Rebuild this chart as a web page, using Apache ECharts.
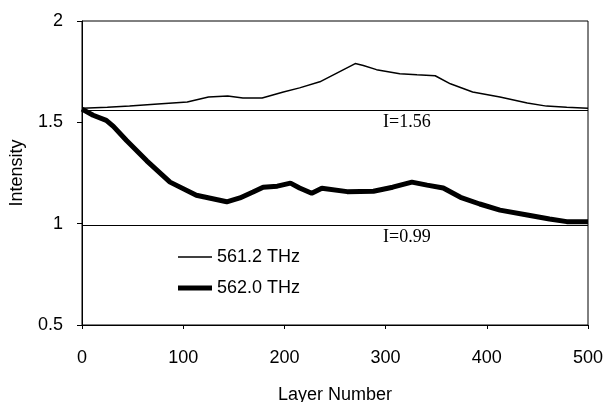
<!DOCTYPE html>
<html>
<head>
<meta charset="utf-8">
<script src="https://cdn.jsdelivr.net/npm/echarts@6/dist/echarts.min.js"></script>
<style>
html, body { margin: 0; padding: 0; background: #fff; }
#chart { width: 608px; height: 402px; }
</style>
</head>
<body>
<div id="chart"></div>
<script>
// layer number / intensity
var thinLayers = [0, 25, 47, 75, 104, 125, 144, 159, 178, 199, 215, 235, 270, 278, 291, 314, 331, 349, 364, 386, 413, 440, 459, 479, 500];
var thinValues = [1.57, 1.575, 1.58, 1.59, 1.60, 1.625, 1.63, 1.62, 1.62, 1.65, 1.67, 1.70, 1.79, 1.78, 1.76, 1.74, 1.735, 1.73, 1.69, 1.65, 1.625, 1.595, 1.58, 1.575, 1.57];

var thickLayers = [0, 11, 24, 31, 44, 64, 87, 113, 143, 156, 169, 179, 193, 206, 215, 227, 237, 262, 288, 307, 326, 341, 357, 374, 393, 413, 440, 462, 479, 500];
var thickValues = [1.565, 1.535, 1.51, 1.48, 1.41, 1.31, 1.205, 1.14, 1.108, 1.127, 1.156, 1.18, 1.185, 1.20, 1.176, 1.15, 1.175, 1.158, 1.16, 1.18, 1.205, 1.19, 1.176, 1.13, 1.097, 1.067, 1.043, 1.023, 1.01, 1.01];

var seriesNames = ['561.2 THz', '562.0 THz'];
var refLevels = [1.56, 0.99];
var refLabels = ['I=1.56', 'I=0.99'];
var refLabelLayer = 321;

function pairs(xs, ys) {
    var out = [];
    for (var i = 0; i < xs.length; i++) {
        out.push([xs[i], ys[i]]);
    }
    return out;
}

var chart = echarts.init(document.getElementById('chart'));

var sansFont = '"Liberation Sans", Arial, sans-serif';
var serifFont = '"Liberation Serif", "Times New Roman", serif';

function legendFor(name, top, thick) {
    return {
        orient: 'vertical',
        left: 178,
        top: top,
        padding: 0,
        icon: 'rect',
        itemWidth: 34,
        itemHeight: thick,
        data: [name],
        itemStyle: { color: '#000' },
        textStyle: {
            color: '#000',
            fontFamily: sansFont,
            fontSize: 18
        }
    };
}

option = {
    backgroundColor: '#fff',
    animation: false,
    grid: {
        show: true,
        left: 82,
        right: 20,
        top: 21,
        bottom: 77,
        containLabel: false,
        outerBoundsMode: 'none',
        borderColor: '#000',
        borderWidth: 1
    },
    legend: [
        legendFor(seriesNames[0], 248, 1.5),
        legendFor(seriesNames[1], 279, 5)
    ],
    xAxis: {
        type: 'value',
        min: 0,
        max: 500,
        interval: 100,
        name: 'Layer Number',
        nameLocation: 'middle',
        nameGap: 61,
        nameTextStyle: {
            color: '#000',
            fontFamily: sansFont,
            fontSize: 18
        },
        axisLine: { show: true, lineStyle: { color: '#000', width: 1 } },
        axisTick: { show: true, length: 4, lineStyle: { color: '#000' } },
        splitLine: { show: false },
        axisLabel: {
            color: '#000',
            fontFamily: sansFont,
            fontSize: 18,
            margin: 24
        }
    },
    yAxis: {
        type: 'value',
        min: 0.5,
        max: 2,
        interval: 0.5,
        name: 'Intensity',
        nameLocation: 'middle',
        nameGap: 56,
        nameTextStyle: {
            color: '#000',
            fontFamily: sansFont,
            fontSize: 18
        },
        axisLine: { show: true, lineStyle: { color: '#000', width: 1 } },
        axisTick: { show: true, length: 5, lineStyle: { color: '#000' } },
        splitLine: { show: false },
        axisLabel: {
            color: '#000',
            fontFamily: sansFont,
            fontSize: 18,
            margin: 19
        }
    },
    series: [
        {
            name: seriesNames[0],
            type: 'line',
            data: pairs(thinLayers, thinValues),
            symbol: 'none',
            color: '#000',
            lineStyle: { color: '#000', width: 1.5 },
            markLine: {
                silent: true,
                symbol: 'none',
                label: { show: false },
                lineStyle: { color: '#000', width: 1, type: 'solid' },
                data: refLevels.map(function (v) { return { yAxis: v }; })
            },
            markPoint: {
                silent: true,
                symbol: 'circle',
                symbolSize: 0,
                label: {
                    show: true,
                    position: 'bottom',
                    distance: 3,
                    color: '#000',
                    fontFamily: serifFont,
                    fontSize: 18,
                    formatter: function (p) { return p.name; }
                },
                data: refLevels.map(function (v, i) {
                    return { name: refLabels[i], coord: [refLabelLayer, v] };
                })
            }
        },
        {
            name: seriesNames[1],
            type: 'line',
            data: pairs(thickLayers, thickValues),
            symbol: 'none',
            color: '#000',
            lineStyle: { color: '#000', width: 5 }
        }
    ]
};

chart.setOption(option);
</script>
</body>
</html>
